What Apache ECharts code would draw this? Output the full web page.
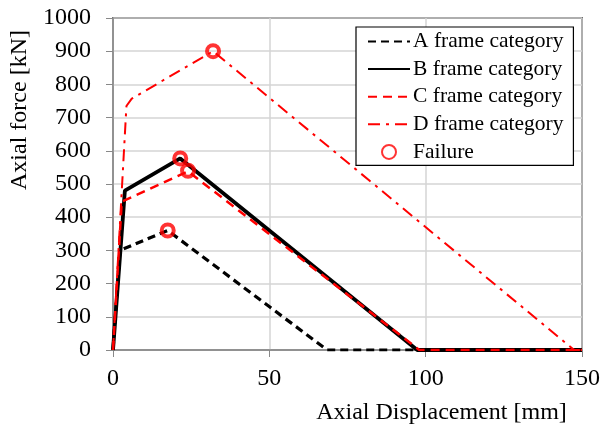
<!DOCTYPE html>
<html><head><meta charset="utf-8">
<script src="https://cdn.jsdelivr.net/npm/echarts@6/dist/echarts.min.js"></script>
<style>html,body{margin:0;padding:0;background:#fff}#c{width:611px;height:430px}</style>
</head><body><div id="c"></div>
<script>
const seriesNames = ['A frame category','B frame category','C frame category','D frame category','Failure'];
const curveA = [[0,0],[2.2,300],[17.5,360],[68.5,0],[150,0]];
const curveB = [[0,0],[3.8,480],[21.5,577],[97.3,0],[150,0]];
const curveC = [[0,0],[2.8,447],[24,538],[98,0],[150,0]];
const curveD = [[0,0],[4.3,735],[6,757],[32,900],[147.5,0],[150,0]];
const failures = [[17.5,360],[21.5,577],[24,540],[32,900]];
const xTicks = [0,50,100,150];
const yTicks = [0,100,200,300,400,500,600,700,800,900,1000];

const font = 'Liberation Serif';
const chart = echarts.init(document.getElementById('c'), null, {renderer:'canvas'});
chart.setOption({
  animation:false,
  backgroundColor:'#fff',
  textStyle:{fontFamily:font},
  grid:{left:113,right:29,top:18,bottom:78,show:true,borderColor:'#000',borderWidth:1.5},
  legend:{
    left:356,top:27,orient:'vertical',
    backgroundColor:'#fff',borderColor:'#000',borderWidth:1.2,
    padding:[3.5,10,2.5,11],itemGap:5.6,itemWidth:42,itemHeight:14,
    textStyle:{fontFamily:font,fontSize:21.5,lineHeight:20,color:'#000',padding:[0,0,0,-2]},
    data:seriesNames.map((n,i)=>i<4?{name:n,itemStyle:{opacity:0}}:{name:n})
  },
  xAxis:{type:'value',min:0,max:150,interval:50,
    axisLine:{show:true,onZero:false,lineStyle:{color:'#888',width:1.5}},
    axisTick:{show:true,length:7,lineStyle:{color:'#888'}},
    axisLabel:{fontFamily:font,fontSize:24,color:'#000',margin:17,
      formatter:v=>xTicks.includes(v)?String(v):''},
    splitLine:{show:true,lineStyle:{color:'#d4d4d4',width:1.5}},
    name:'Axial Displacement [mm]',nameLocation:'middle',nameGap:51,
    nameTextStyle:{fontFamily:font,fontSize:24,color:'#000',padding:[0,0,0,188]}
  },
  yAxis:{type:'value',min:0,max:1000,interval:100,
    axisLine:{show:true,lineStyle:{color:'#888',width:1.5}},
    axisTick:{show:true,length:7,lineStyle:{color:'#888'}},
    axisLabel:{fontFamily:font,fontSize:24,color:'#000',margin:22,
      formatter:v=>yTicks.includes(v)?String(v):''},
    splitLine:{show:true,lineStyle:{color:'#d4d4d4',width:1.5}},
    name:'Axial force [kN]',nameLocation:'middle',nameGap:71,
    nameTextStyle:{fontFamily:font,fontSize:24,color:'#000',padding:[0,0,0,148]}
  },
  series:[
    {name:seriesNames[0],type:'line',data:curveA,symbol:'none',z:3,
      lineStyle:{color:'#000',width:3.2,type:[8,5]},itemStyle:{color:'#000'}},
    {name:seriesNames[1],type:'line',data:curveB,symbol:'none',z:2,
      lineStyle:{color:'#000',width:3.8,type:'solid'},itemStyle:{color:'#000'}},
    {name:seriesNames[2],type:'line',data:curveC,symbol:'none',z:4,
      lineStyle:{color:'#ff0000',width:2.5,type:[9,6]},itemStyle:{color:'#ff0000'}},
    {name:seriesNames[3],type:'line',data:curveD,symbol:'none',z:4,
      lineStyle:{color:'#ff0000',width:2,type:[12,6,3,6]},itemStyle:{color:'#ff0000'}},
    {name:seriesNames[4],type:'scatter',data:failures,symbol:'circle',symbolSize:12,z:6,
      itemStyle:{color:'rgba(255,255,255,0)',borderColor:'#ff0000',borderWidth:4}}
  ]
});
</script></body></html>
